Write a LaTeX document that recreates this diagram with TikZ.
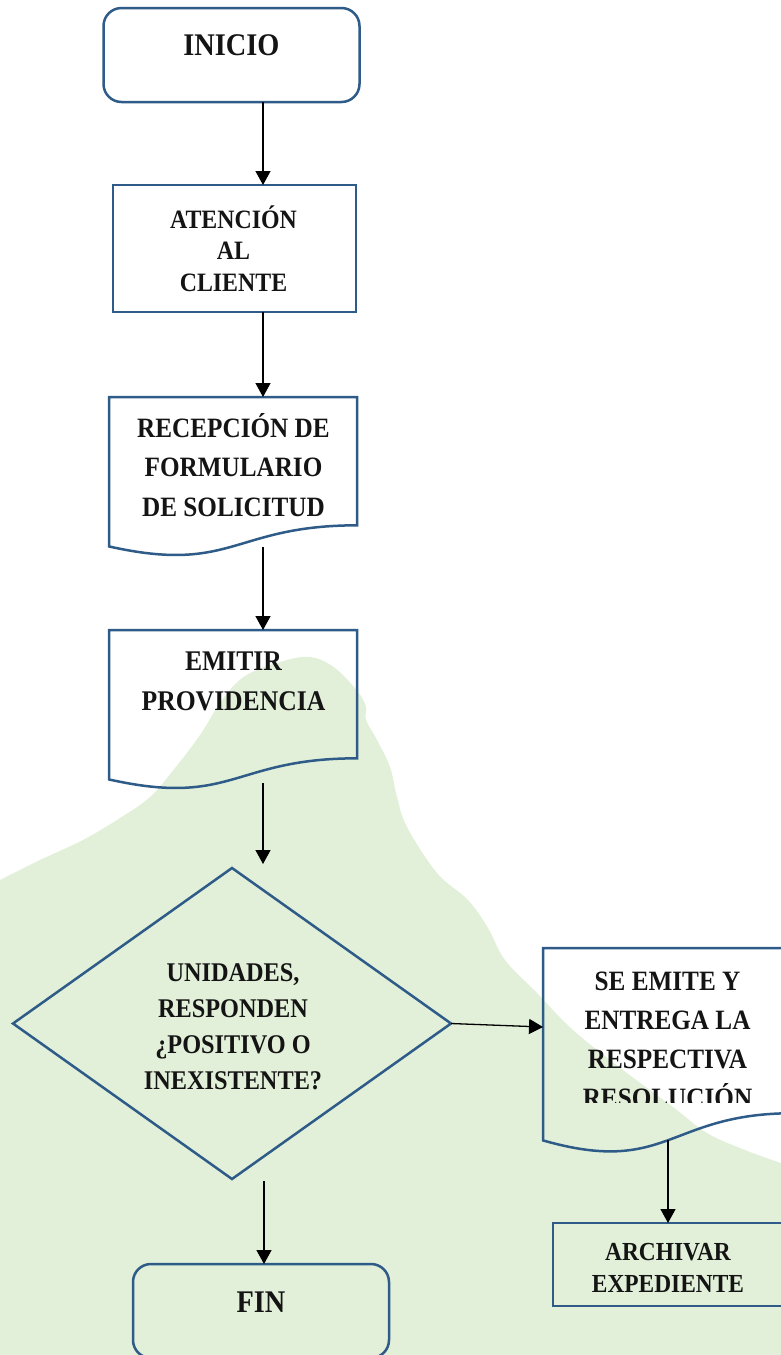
\documentclass[tikz,border=0pt]{standalone}
\usepackage{fontspec}
\setmainfont{Liberation Serif}[FakeStretch=0.9]
\usetikzlibrary{arrows.meta,calc,shapes.geometric}
\definecolor{lineblue}{HTML}{2E5B87}
\definecolor{blobgreen}{HTML}{E2F0D9}
\definecolor{inkblack}{HTML}{141414}
\newcommand{\flowfont}[2]{\fontsize{#1}{#2}\selectfont\bfseries}
% document symbol drawn over a plain (invisible) rectangle node
\newcommand{\docshape}[1]{%
  \draw[shapeline] (#1.north west) -- (#1.north east)
    -- ($(#1.north east)!0.802!(#1.south east)$)
    .. controls ($(#1.north)!0.802!(#1.south)$) and ($(#1.north)!1.1075!(#1.south)$)
    .. ($(#1.north west)!0.934!(#1.south west)$) -- cycle;}
\tikzset{
  shapeline/.style={draw=lineblue, line width=2.5pt},
  box/.style={shapeline, rectangle, inner sep=0pt, outer sep=0pt},
  roundbox/.style={box, rounded corners=18pt},
  docframe/.style={rectangle, inner sep=0pt, outer sep=0pt},
  boxtext/.style={anchor=base, align=center, inner sep=0pt, text=inkblack},
  arr/.style={-{Triangle[length=14pt,width=15pt]}, line width=1.3pt, black}
}

\begin{document}
\begin{tikzpicture}[x=1pt,y=-1pt]
  \useasboundingbox (0,0) rectangle (781,1355);
  \clip (0,0) rectangle (781,1355);
  % green background blob
  \fill[blobgreen] plot[smooth, tension=0.6] coordinates {
    (0,880) (40,860) (83,840) (120,818) (150,797) (175,768) (200,735)
    (222,700) (245,676) (280,662) (310,657) (335,668) (358,692) (366,707)
    (366,720) (377,740) (390,767) (397,797) (407,827) (437,873) (468,900)
    (488,928) (505,960) (537,993) (573,1030) (623,1070) (673,1107)
    (707,1133) (745,1150) (781,1163)}
    -- (781,1355) -- (0,1355) -- cycle;
  % shapes (text nodes sit on the baseline of their last line)
  \node[roundbox, minimum width=256pt, minimum height=94pt] (inicio) at (231.5,55) {};
  \node[boxtext, font=\flowfont{31.5}{34}] (inicio-txt) at (231.5,55) {INICIO};
  \node[box, minimum width=243pt, minimum height=127pt] (aten) at (234.5,248.5) {};
  \node[boxtext, font=\flowfont{26.5}{31.5}] (aten-txt) at (233.5,291) {ATENCIÓN\\AL\\CLIENTE};
  \node[docframe, minimum width=248pt, minimum height=160pt] (recep) at (233,477) {};
  \docshape{recep}
  \node[boxtext, font=\flowfont{28}{39.5}] (recep-txt) at (233.5,516) {RECEPCIÓN DE\\FORMULARIO\\DE SOLICITUD};
  \node[docframe, minimum width=248pt, minimum height=160pt] (emit) at (233,710) {};
  \docshape{emit}
  \node[boxtext, font=\flowfont{28.5}{40}] (emit-txt) at (233.5,710) {EMITIR\\PROVIDENCIA};
  \node[shapeline, diamond, inner sep=0pt, outer sep=0pt, minimum width=438pt, minimum height=311pt] (dec) at (232,1023.5) {};
  \node[boxtext, font=\flowfont{27}{35.7}] (dec-txt) at (233,1089) {UNIDADES,\\RESPONDEN\\¿POSITIVO O\\INEXISTENTE?};
  \node[docframe, minimum width=250pt, minimum height=206pt] (emite) at (668,1051) {};
  \docshape{emite}
  \begin{scope}
    \clip (543,948) rectangle (781,1102);
    \node[boxtext, font=\flowfont{28}{39}] (emite-txt) at (667.5,1107) {SE EMITE Y\\ENTREGA LA\\RESPECTIVA\\RESOLUCIÓN};
  \end{scope}
  \node[box, minimum width=230pt, minimum height=83pt] (archivo) at (668,1264.5) {};
  \node[boxtext, font=\flowfont{26}{32}] (archivo-txt) at (668,1292) {ARCHIVAR\\EXPEDIENTE};
  \node[roundbox, minimum width=256pt, minimum height=94pt] (fin) at (261,1311) {};
  \node[boxtext, font=\flowfont{31.5}{34}] (fin-txt) at (261,1312) {FIN};
  % connectors
  \draw[arr] ([xshift=31.5pt]inicio.south) -- ([xshift=28.5pt]aten.north);
  \draw[arr] ([xshift=28.5pt]aten.south) -- ([xshift=30pt]recep.north);
  \draw[arr] ([xshift=30pt,yshift=10pt]recep.south) -- ([xshift=30pt]emit.north);
  \draw[arr] ([xshift=30pt,yshift=7pt]emit.south) -- ([xshift=31pt,yshift=4pt]dec.north);
  \draw[arr] (dec.east) -- ([yshift=24pt]emite.west);
  \draw[arr] ([yshift=14pt]emite.south) -- (archivo.north);
  \draw[arr] ([xshift=32pt,yshift=-2pt]dec.south) -- ([xshift=3pt]fin.north);
\end{tikzpicture}
\end{document}
